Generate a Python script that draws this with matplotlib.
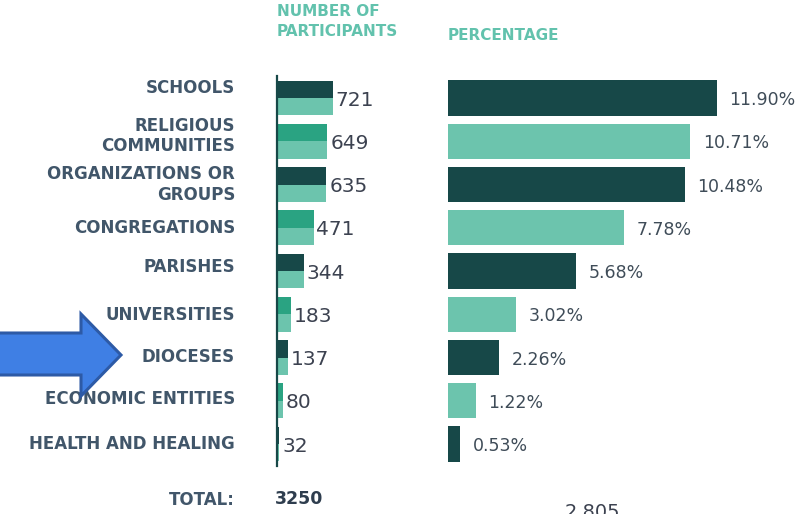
import matplotlib
matplotlib.use('Agg')
import matplotlib.pyplot as plt
from matplotlib.patches import Polygon

categories = ['SCHOOLS', 'RELIGIOUS\nCOMMUNITIES', 'ORGANIZATIONS OR\nGROUPS',
              'CONGREGATIONS', 'PARISHES', 'UNIVERSITIES', 'DIOCESES',
              'ECONOMIC ENTITIES', 'HEALTH AND HEALING']
participants = [721, 649, 635, 471, 344, 183, 137, 80, 32]
percentages = [11.90, 10.71, 10.48, 7.78, 5.68, 3.02, 2.26, 1.22, 0.53]
total_label = 'TOTAL:'
total_participants = '3250'
total_other = '2,805'

DARK = '#174848'
MID = '#2aa382'
LIGHT = '#6cc4ad'
HEAD = '#62c2ad'
LABEL = '#41566a'
NUM = '#3c4250'

W, H = 807, 514
fig = plt.figure(figsize=(W / 100, H / 100), dpi=100)


def fx(x):
    return x / W


def fy(y):
    return 1 - y / H


# rows: centre of first row at 98 px, 43.25 px apart
row0, step = 98, 43.25
top_px = row0 - 0.5 * step
bot_px = row0 + 8.5 * step
rows = list(range(len(categories)))

# left panel: number of participants
ax1 = fig.add_axes([fx(277), fy(bot_px), fx(140), (bot_px - top_px) / H])
top_colors = [DARK if i % 2 == 0 else MID for i in rows]
ax1.barh([r - 0.2 for r in rows], participants, height=0.4, color=top_colors)
ax1.barh([r + 0.2 for r in rows], participants, height=0.4, color=LIGHT)
for r, v in zip(rows, participants):
    ax1.annotate(str(v), (v, r + 0.05), xytext=(2, 0), textcoords='offset points',
                 va='center', ha='left', fontsize=14.5, color=NUM)
ax1.set_xlim(0, 1800)
ax1.set_ylim(8.5, -0.5)
for s in ['top', 'right', 'bottom']:
    ax1.spines[s].set_visible(False)
ax1.spines['left'].set_color(DARK)
ax1.spines['left'].set_linewidth(1.6)
ax1.set_xticks([])
ax1.set_yticks([])
ax1.patch.set_alpha(0)

# category labels
shift = [-0.22, -0.12, 0, 0, -0.1, 0.02, 0, -0.03, 0]
for r, name, sh in zip(rows, categories, shift):
    ax1.text((235 - 277) / 140, r + sh, name, transform=ax1.get_yaxis_transform(),
             ha='right', va='center', fontsize=12, fontweight='bold',
             color=LABEL, linespacing=1.2, multialignment='right')

# right panel: percentage
ax2 = fig.add_axes([fx(448), fy(bot_px), fx(350), (bot_px - top_px) / H])
right_colors = [DARK if i % 2 == 0 else LIGHT for i in rows]
ax2.barh(rows, percentages, height=0.82, color=right_colors)
for r, p in zip(rows, percentages):
    ax2.annotate(f'{p:.2f}%', (p, r + 0.05), xytext=(9, 0), textcoords='offset points',
                 va='center', ha='left', fontsize=12.5, color='#3f4c58')
ax2.set_xlim(0, 15.48)
ax2.set_ylim(8.5, -0.5)
ax2.axis('off')

# headers
fig.text(fx(277), fy(4), 'NUMBER OF\nPARTICIPANTS', ha='left', va='top',
         fontsize=11, fontweight='bold', color=HEAD, linespacing=1.4)
fig.text(fx(448), fy(35), 'PERCENTAGE', ha='left', va='center',
         fontsize=11, fontweight='bold', color=HEAD)

# totals
fig.text(fx(235), fy(500), total_label, ha='right', va='center',
         fontsize=12, fontweight='bold', color=LABEL)
fig.text(fx(275), fy(499), total_participants, ha='left', va='center',
         fontsize=12.5, fontweight='bold', color='#2e3d4e')
fig.text(fx(565), fy(503), total_other, ha='left', va='top',
         fontsize=14, color=NUM)

# blue arrow pointing at DIOCESES
arrow_pts = [(-5, 333), (81, 333), (81, 314), (121, 355), (81, 396), (81, 375), (-5, 375)]
fig.patches.append(Polygon([(fx(x), fy(y)) for x, y in arrow_pts], closed=True,
                           transform=fig.transFigure, facecolor='#3f7fe4',
                           edgecolor='#2d5aa6', linewidth=2.2))

fig.savefig('out.png', dpi=100)
